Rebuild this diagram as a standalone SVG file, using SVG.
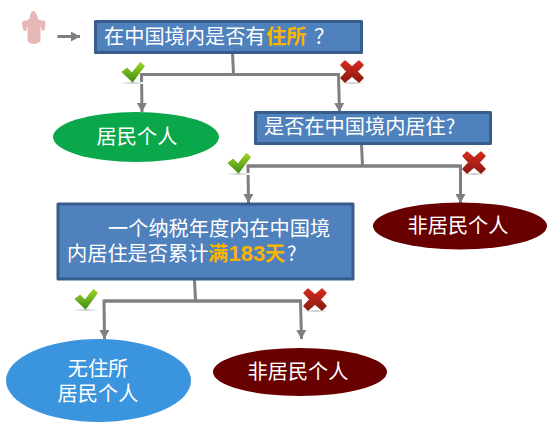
<svg xmlns="http://www.w3.org/2000/svg" width="559" height="431" viewBox="0 0 559 431">
<style>
.box{fill:#4f81bd;stroke:#385d8a;stroke-width:3;stroke-linejoin:round}
.line{fill:none;stroke:#7f7f7f;stroke-width:3}
.t{font-family:"Noto Sans CJK SC","Liberation Sans",sans-serif;font-size:20.200px;fill:#fff}
.b{font-weight:700;fill:#f9b500}
.n{font-family:"Liberation Sans","Noto Sans CJK SC",sans-serif;font-size:22px}
.m{text-anchor:middle}
</style>
<defs>
<linearGradient id="gc" x1="0" y1="0" x2="0" y2="1"><stop offset="0" stop-color="#9fd32a"/><stop offset="1" stop-color="#3f8f12"/></linearGradient>
<linearGradient id="gx" x1="0" y1="0" x2="0" y2="1"><stop offset="0" stop-color="#d62a1c"/><stop offset="1" stop-color="#8a1a12"/></linearGradient>
<linearGradient id="gs" x1="0" y1="0" x2="1" y2="0"><stop offset="0" stop-color="#fff"/><stop offset=".5" stop-color="#ccc"/><stop offset="1" stop-color="#fff"/></linearGradient>
<marker id="a" markerUnits="userSpaceOnUse" markerWidth="10" markerHeight="10" refX="9" refY="5" orient="auto"><path d="M0 0L9 5L0 10Z" fill="#7f7f7f"/></marker>
<g id="ok"><rect x="-1" y="20" width="25" height="2" fill="url(#gs)"/><path d="M1.500 10L6 6.500L11 11.500L19.500 .8L23 4L11.500 19.500Z" fill="url(#gc)" stroke="url(#gc)" stroke-width="1.500" stroke-linejoin="round"/></g>
<g id="no"><rect x="0" y="22" width="25" height="2" fill="url(#gs)"/><path d="M5 1L12 7L19 1L23 5L17 11.500L23 18L19 22L12 16L5 22L1 18L7 11.500L1 5Z" fill="url(#gx)" stroke="url(#gx)" stroke-width="1.500" stroke-linejoin="round"/></g>
</defs>
<g id="connectors">
<path class="line" marker-end="url(#a)" d="M57.500 36.500H80"/>
<path class="line" d="M232.500 53L233.500 74"/>
<path class="line" marker-end="url(#a)" d="M339 74.500H141.500L142 112"/>
<path class="line" marker-end="url(#a)" d="M141 74.500H338.500L339.500 112"/>
<path class="line" d="M361.500 144L362.500 166"/>
<path class="line" marker-end="url(#a)" d="M460 166H248L248.500 203"/>
<path class="line" marker-end="url(#a)" d="M248 166H460.500L460.500 203"/>
<path class="line" d="M194.500 280L195.500 301"/>
<path class="line" marker-end="url(#a)" d="M301 301H104L104.500 339"/>
<path class="line" marker-end="url(#a)" d="M104 301H300.500L301.500 339"/>
</g>
<g id="person"><path d="M33.500 11C35.500 11 37 14 38 19L41 20.500H43C45 20.500 45.500 22 45.500 24L44.500 30.500L42 31L40.500 25V41C39 43 36 44 33.500 44C31 44 29 43 27.500 41L27.500 25L26 31H23.500L22 24C22 21.500 23 20.500 25 20.500H26.500L29.500 19C30 14 31.500 11 33.500 11Z" fill="#e6b8b7"/></g>
<g id="q1"><rect class="box" x="95.500" y="21.500" width="266" height="31"/>
<text class="t" x="104" y="44">在中国境内是否有</text><text class="t b" x="266" y="44">住所</text><text class="t" x="314" y="44">？</text></g>
<g id="resident"><ellipse cx="136" cy="137" rx="83" ry="25" fill="#0aa84a"/><text class="t m" x="137" y="144">居民个人</text></g>
<g id="q2"><rect class="box" x="255.500" y="112.500" width="235" height="31"/><text class="t" x="264" y="134">是否在中国境内居住?</text></g>
<g id="nonres1"><ellipse cx="460" cy="226" rx="87" ry="23.500" fill="#690000"/><text class="t m" x="458" y="233">非居民个人</text></g>
<g id="q3"><rect class="box" x="58" y="204" width="295" height="75"/><text class="t" x="108" y="236">一个纳税年度内在中国境</text><text class="t" x="67" y="261">内居住是否累计</text><text class="t b" x="208" y="261">满</text><text class="t b n" x="228.500" y="261">183</text><text class="t b" x="265" y="261">天</text><text class="t" x="287" y="261">?</text></g>
<g id="nores"><ellipse cx="98.500" cy="380.500" rx="92.500" ry="41.500" fill="#3a94de"/><text class="t m" x="98" y="376">无住所</text><text class="t m" x="98" y="401">居民个人</text></g>
<g id="nonres2"><ellipse cx="300" cy="372" rx="87" ry="24" fill="#690000"/><text class="t m" x="298" y="379">非居民个人</text></g>
<g id="marks">
<use href="#ok" x="121" y="62"/><use href="#no" x="340" y="60"/>
<use href="#ok" x="227" y="153"/><use href="#no" x="462" y="151"/>
<use href="#ok" x="74" y="289"/><use href="#no" x="303" y="288"/>
</g>
</svg>
